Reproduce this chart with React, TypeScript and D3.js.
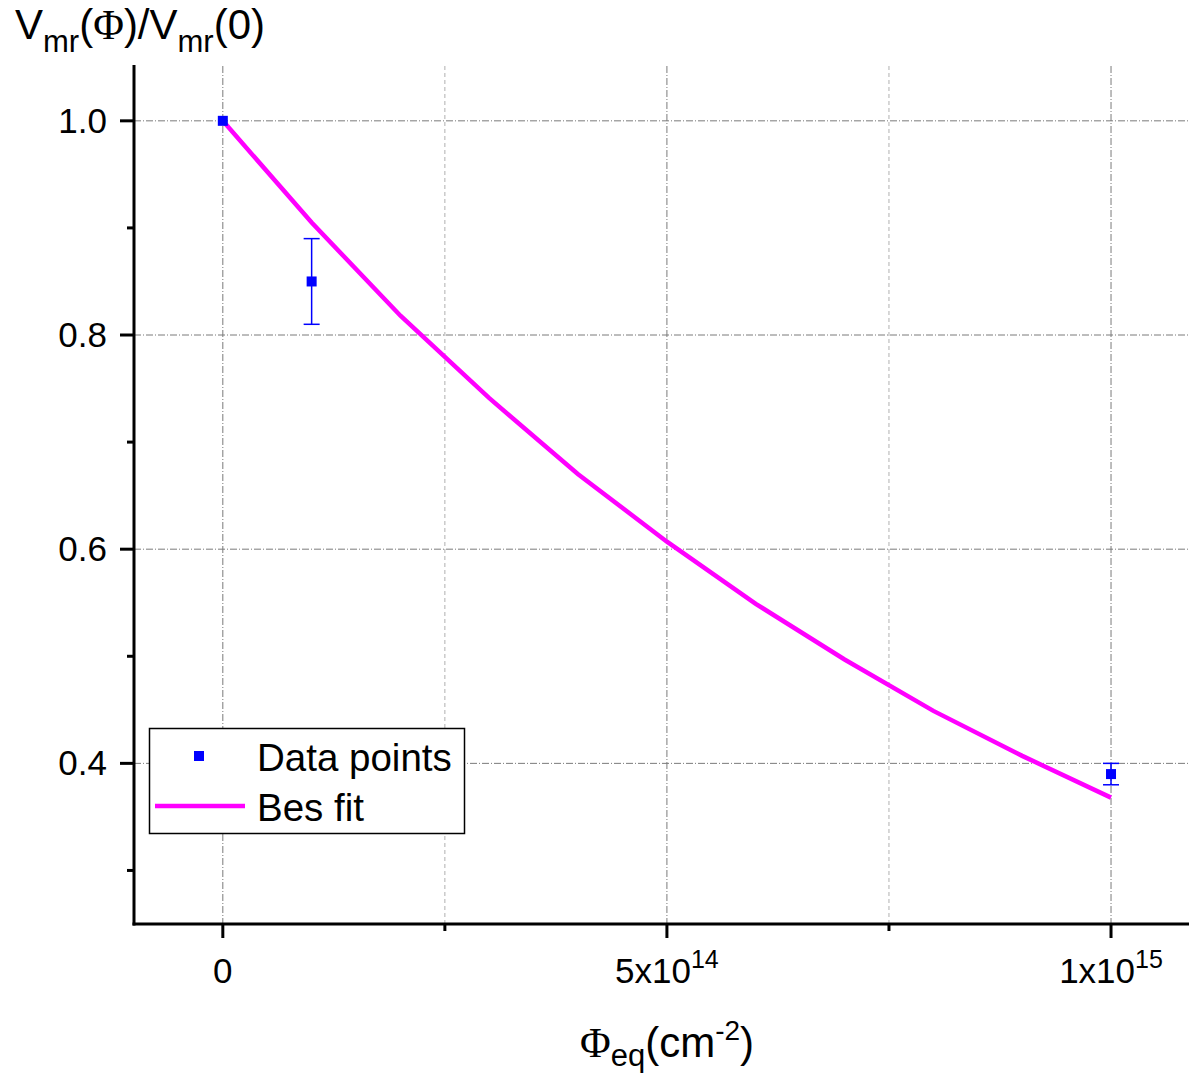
import React from "react";
import * as d3 from "d3";

const pointX = [0, 1e14, 1e15];
const pointY = [1.0, 0.85, 0.39];
const pointErr = [0, 0.04, 0.01];

const fitX = [0, 1e14, 2e14, 3e14, 4e14, 5e14, 6e14, 7e14, 8e14, 9e14, 1e15];
const fitY = [1.0, 0.905, 0.818, 0.741, 0.670, 0.607, 0.549, 0.497, 0.449, 0.407, 0.368];

const yMajorTicks = [0.4, 0.6, 0.8, 1.0];
const yMinorTicks = [0.3, 0.5, 0.7, 0.9];
const xMajorTicks = [0, 5e14, 1e15];
const xMinorTicks = [2.5e14, 7.5e14];
const xTickLabels = [
  { base: "0", sup: "" },
  { base: "5x10", sup: "14" },
  { base: "1x10", sup: "15" },
];

const W = 1189;
const H = 1074;
const left = 134;
const right = 1189;
const top = 66;
const bottom = 924;

export default function App() {
  const x = d3.scaleLinear().domain([-1e14, 1.0878e15]).range([left, right]);
  const y = d3.scaleLinear().domain([0.25, 1.0512]).range([bottom, top]);

  const line = d3
    .line<number>()
    .x((_, i) => x(fitX[i]))
    .y((d) => y(d))
    .curve(d3.curveLinear);

  const font = "'Liberation Sans', Arial, sans-serif";
  const serif = "'Liberation Serif', 'Times New Roman', serif";
  const gridCol = "#7a7a7a";

  return (
    <svg
      width={W}
      height={H}
      style={{ position: "absolute", left: 0, top: 0, background: "#fff" }}
      fontFamily={font}
    >
      <rect x={0} y={0} width={W} height={H} fill="#fff" />
      {/* major grid */}
      {yMajorTicks.map((t) => (
        <line key={"gy" + t} x1={left} x2={right} y1={y(t)} y2={y(t)} stroke={gridCol} strokeWidth={1} strokeDasharray="7,2,1,2" />
      ))}
      {xMajorTicks.map((t) => (
        <line key={"gx" + t} x1={x(t)} x2={x(t)} y1={top} y2={bottom} stroke={gridCol} strokeWidth={1} strokeDasharray="7,2,1,2" />
      ))}
      {xMinorTicks.map((t) => (
        <line key={"gmx" + t} x1={x(t)} x2={x(t)} y1={top} y2={bottom} stroke="#b0b0b0" strokeWidth={1} strokeDasharray="4,3" />
      ))}

      {/* fit */}
      <path d={line(fitY) || ""} fill="none" stroke="#ff00ff" strokeWidth={4.5} />

      {/* data points */}
      {pointX.map((px, i) => {
        const cx = x(px);
        const cy = y(pointY[i]);
        const e = pointErr[i];
        return (
          <g key={"p" + i}>
            {e > 0 && (
              <g stroke="#0000ff" strokeWidth={1.5}>
                <line x1={cx} x2={cx} y1={y(pointY[i] + e)} y2={y(pointY[i] - e)} />
                <line x1={cx - 8} x2={cx + 8} y1={y(pointY[i] + e)} y2={y(pointY[i] + e)} />
                <line x1={cx - 8} x2={cx + 8} y1={y(pointY[i] - e)} y2={y(pointY[i] - e)} />
              </g>
            )}
            <rect x={cx - 5} y={cy - 5} width={10} height={10} fill="#0000ff" />
          </g>
        );
      })}

      {/* axes */}
      <line x1={left} x2={left} y1={top - 1} y2={bottom + 1.5} stroke="#000" strokeWidth={3} />
      <line x1={left - 1.5} x2={right} y1={bottom} y2={bottom} stroke="#000" strokeWidth={3} />
      {yMajorTicks.map((t) => (
        <line key={"ty" + t} x1={left - 14} x2={left} y1={y(t)} y2={y(t)} stroke="#000" strokeWidth={3} />
      ))}
      {yMinorTicks.map((t) => (
        <line key={"tmy" + t} x1={left - 7} x2={left} y1={y(t)} y2={y(t)} stroke="#000" strokeWidth={3} />
      ))}
      {xMajorTicks.map((t) => (
        <line key={"tx" + t} x1={x(t)} x2={x(t)} y1={bottom} y2={bottom + 14} stroke="#000" strokeWidth={3} />
      ))}
      {xMinorTicks.map((t) => (
        <line key={"tmx" + t} x1={x(t)} x2={x(t)} y1={bottom} y2={bottom + 7} stroke="#000" strokeWidth={3} />
      ))}

      {/* tick labels */}
      {yMajorTicks.map((t) => (
        <text key={"ly" + t} x={107} y={y(t) + 12} fontSize={35} textAnchor="end" fill="#000">
          {d3.format(".1f")(t)}
        </text>
      ))}
      {xMajorTicks.map((t, i) => (
        <text key={"lx" + t} x={x(t)} y={983} fontSize={35} textAnchor="middle" fill="#000">
          {xTickLabels[i].base}
          {xTickLabels[i].sup && (
            <tspan dy={-15} fontSize={25}>
              {xTickLabels[i].sup}
            </tspan>
          )}
        </text>
      ))}

      {/* y title */}
      <text x={15} y={39} fontSize={42} fill="#000">
        V<tspan dy={13} fontSize={31}>mr</tspan>
        <tspan dy={-13}>(</tspan>
        <tspan fontFamily={serif}>Φ</tspan>
        <tspan>)/V</tspan>
        <tspan dy={13} fontSize={31}>mr</tspan>
        <tspan dy={-13}>(0)</tspan>
      </text>

      {/* x title */}
      <text x={667} y={1057} fontSize={42} textAnchor="middle" fill="#000">
        <tspan fontFamily={serif}>Φ</tspan>
        <tspan dy={9} fontSize={31}>eq</tspan>
        <tspan dy={-9}>(cm</tspan>
        <tspan dy={-17} fontSize={28}>-2</tspan>
        <tspan dy={17}>)</tspan>
      </text>

      {/* legend */}
      <rect x={149.5} y={728.5} width={315} height={105} fill="#fff" stroke="#000" strokeWidth={1.5} />
      <rect x={194} y={751} width={10} height={10} fill="#0000ff" />
      <line x1={155} x2={245} y1={806} y2={806} stroke="#ff00ff" strokeWidth={4.5} />
      <text x={257} y={771} fontSize={38.5} fill="#000">Data points</text>
      <text x={257} y={821} fontSize={38.5} fill="#000">Bes fit</text>
    </svg>
  );
}
